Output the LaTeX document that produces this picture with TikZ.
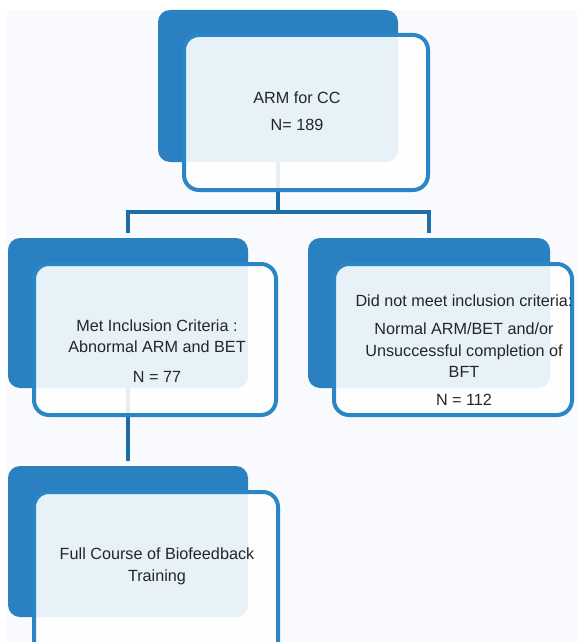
\documentclass[tikz,border=0pt]{standalone}
\usepackage{fontspec}
\setmainfont{Liberation Sans}
\definecolor{backblue}{HTML}{2A80C0}
\definecolor{edgeblue}{HTML}{2B86C5}
\definecolor{linkblue}{HTML}{1F6DA5}
\definecolor{pagebg}{HTML}{F8FAFD}
\definecolor{textgray}{HTML}{262626}
\begin{document}
\begin{tikzpicture}[x=1pt,y=-1pt,
    backbox/.style={fill=backblue,rounded corners=12pt,inner sep=0pt,minimum width=240pt,minimum height=151pt},
    frontbox/.style={draw=edgeblue,line width=4pt,fill=white,fill opacity=0.89,rounded corners=15pt,inner sep=0pt,minimum width=242pt,minimum height=151pt},
    boxtext/.style={text=textgray,align=center,font=\fontsize{16.2}{21.5}\selectfont},
    link/.style={draw=linkblue,line width=4.5pt,shorten >=5pt}]
            \useasboundingbox (0,0) rectangle (577,642);
            \fill[pagebg] (7,10) rectangle (577,642);

            \node[backbox, minimum height=152pt] (armback) at (278,86) {};
            \node[backbox, minimum height=150pt] (metback) at (128,313) {};
            \node[backbox, minimum width=242pt, minimum height=150pt] (notback) at (429,313) {};
            \node[backbox] (fullback) at (128,541.5) {};
            \coordinate (split) at (278,212);

            \draw[link, shorten >=0pt] (armback.south) to (split);
            \draw[link] (split) -| (metback.north); \draw[link] (split) -| (notback.north);
            \draw[link] (metback.south) to (fullback.north);

            \node[frontbox, minimum width=244pt, minimum height=155pt] (arm) at (306,112.5) {};
            \node[frontbox] (met) at (155,339.5) {};
            \node[frontbox, minimum width=238pt] (notmet) at (453,339.5) {};
            \node[frontbox, minimum width=244pt, minimum height=180pt] (full) at (156,582) {};

            \node[boxtext] (armtext) at (297,111) {ARM for CC\\[5pt]N= 189};
            \node[boxtext] (mettext) at (157,351) {Met Inclusion Criteria :\\Abnormal ARM and BET\\[8pt]N = 77};
            \node[boxtext] (notmettext) at (464,350) {Did not meet inclusion criteria:\\[7pt]Normal ARM/BET and/or\\Unsuccessful completion of\\BFT\\[6pt]N = 112};
            \node[boxtext] (fulltext) at (157,566.5) {Full Course of Biofeedback\\Training};
        \end{tikzpicture}
\end{document}
